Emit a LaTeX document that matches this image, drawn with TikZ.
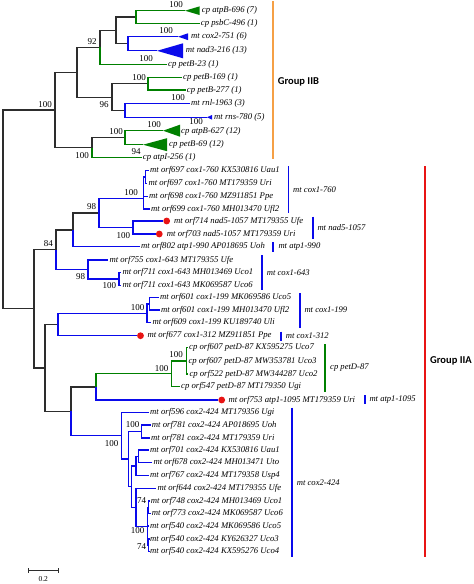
\documentclass[tikz,border=0pt]{standalone}
\usepackage{fontspec}
\setmainfont{Liberation Serif}
\newfontfamily\grpfont{Carlito}
\definecolor{tgreen}{RGB}{0,128,0}
\definecolor{tblue}{RGB}{10,10,235}
\definecolor{tblack}{RGB}{45,45,45}
\definecolor{tred}{RGB}{232,20,20}
\definecolor{torange}{RGB}{245,160,70}
\tikzset{
  br/.style={line width=1.2pt},
  bk/.style={br, draw=tblack},
  gr/.style={br, draw=tgreen},
  bl/.style={br, draw=tblue},
  lbl/.style={anchor=west, inner sep=1.2pt, xshift=-1.2pt, font=\fontsize{8.7}{10}\selectfont\itshape, text height=6pt, text depth=2pt},
  bs/.style={inner sep=0pt, font=\fontsize{9}{10}\selectfont},
  reddot/.style={circle, fill=tred, inner sep=0pt, minimum size=6.8pt},
  cbar/.style={line width=1.7pt},
  clbl/.style={anchor=west, inner sep=0pt, font=\fontsize{8.6}{10}\selectfont\itshape},
  grp/.style={anchor=west, inner sep=0pt, font=\grpfont\bfseries\fontsize{10.5}{12}\selectfont},
}
\begin{document}
\begin{tikzpicture}[x=1pt,y=-1pt]
\useasboundingbox (0,0) rectangle (474,584);
% ---------------- internal nodes ----------------
\coordinate (root) at (3,209.4);
\coordinate (A) at (55,110);
\coordinate (B1) at (77,72.2);
\coordinate (B) at (100,47.3);
\coordinate (C) at (116,30.4);
\coordinate (D) at (136,17);
\coordinate (E) at (128,43.75);
\coordinate (F) at (112,97.1);
\coordinate (G) at (148,83.85);
\coordinate (H) at (125,110.3);
\coordinate (I) at (92,147.7);
\coordinate (J) at (125,137.7);
\coordinate (N84) at (34,308.8);
\coordinate (K) at (56,249.75);
\coordinate (L) at (73,229.9);
\coordinate (M) at (99,213);
\coordinate (N) at (143.3,198.3);
\coordinate (N2) at (145.7,177);
\coordinate (O) at (133,227.6);
\coordinate (P) at (88,269.5);
\coordinate (Q) at (119,279);
\coordinate (R) at (45,367.9);
\coordinate (S) at (58,324.5);
\coordinate (T) at (147,313.3);
\coordinate (T2) at (149.5,303.9);
\coordinate (U) at (71,411.3);
\coordinate (V) at (96,386.9);
\coordinate (W) at (171.7,373.8);
\coordinate (X) at (186.3,360.9);
\coordinate (Y) at (121.7,435.65);
\coordinate (Z) at (128.5,459);
\coordinate (AA) at (141.7,431.5);
\coordinate (Z2) at (131.5,486.6);
\coordinate (BB) at (136,466);
\coordinate (BB2) at (138.3,456.4);
\coordinate (CC) at (136,507.25);
\coordinate (DD) at (147.3,526.2);
\coordinate (EE) at (148.5,507.2);
\coordinate (FF) at (148.5,545.2);
% triangle apexes
\coordinate (t1) at (185,10.7);
\coordinate (t2) at (178,36.7);
\coordinate (t3) at (157,50.8);
\coordinate (t4) at (207,117.3);
\coordinate (t5) at (163,130.7);
\coordinate (t6) at (143,144.7);
% ---------------- Group IIB labels ----------------
\node[lbl] (lt1) at (201.7,10.7) {cp atpB-696 (7)};
\node[lbl] (lpsbC) at (200.7,23.3) {cp psbC-496 (1)};
\node[lbl] (lt2) at (191,36.7) {mt cox2-751 (6)};
\node[lbl] (lt3) at (185.7,50.8) {mt nad3-216 (13)};
\node[lbl] (lpetB23) at (168,64.3) {cp petB-23 (1)};
\node[lbl] (lpetB169) at (183,77.7) {cp petB-169 (1)};
\node[lbl] (lpetB277) at (186.7,90) {cp petB-277 (1)};
\node[lbl] (lrnl) at (191,103.3) {mt rnl-1963 (3)};
\node[lbl] (lt4) at (214,117.3) {mt rns-780 (5)};
\node[lbl] (lt5) at (181,131.2) {cp atpB-627 (12)};
\node[lbl] (lt6) at (169,144.7) {cp petB-69 (12)};
\node[lbl] (latpl) at (142.7,157.7) {cp atpI-256 (1)};
% ---------------- Group IIA labels ----------------
\node[lbl] (l697a) at (150,170.7) {mt orf697 cox1-760 KX530816 Uau1};
\node[lbl] (l697b) at (148.3,183.4) {mt orf697 cox1-760 MT179359 Uri};
\node[lbl] (l698) at (149,196.2) {mt orf698 cox1-760 MZ911851 Ppe};
\node[lbl] (l699) at (151,209) {mt orf699 cox1-760 MH013470 Ufl2};
\node[reddot] (d714) at (166.7,221) {};
\node[reddot] (d703) at (159.3,234) {};
\node[lbl] (l714) at (174,221) {mt orf714 nad5-1057 MT179355 Ufe};
\node[lbl] (l703) at (166.7,234) {mt orf703 nad5-1057 MT179359 Uri};
\node[lbl] (l802) at (141,246.7) {mt orf802 atp1-990 AP018695 Uoh};
\node[lbl] (l755) at (109.3,260) {mt orf755 cox1-643 MT179355 Ufe};
\node[lbl] (l711a) at (122.3,272.3) {mt orf711 cox1-643 MH013469 Uco1};
\node[lbl] (l711b) at (122.3,285.7) {mt orf711 cox1-643 MK069587 Uco6};
\node[lbl] (l601a) at (160,297.7) {mt orf601 cox1-199 MK069586 Uco5};
\node[lbl] (l601b) at (161,310) {mt orf601 cox1-199 MH013470 Ufl2};
\node[lbl] (l609) at (152.3,322.7) {mt orf609 cox1-199 KU189740 Uli};
\node[reddot] (d677) at (140.5,335.7) {};
\node[lbl] (l677) at (147.3,335.7) {mt orf677 cox1-312 MZ911851 Ppe};
\node[lbl] (l607a) at (189,347.7) {cp orf607 petD-87 KX595275 Uco7};
\node[lbl] (l607b) at (188.3,361) {cp orf607 petD-87 MW353781 Uco3};
\node[lbl] (l522) at (189.3,374) {cp orf522 petD-87 MW344287 Uco2};
\node[lbl] (l547) at (181,386.7) {cp orf547 petD-87 MT179350 Ugi};
\node[reddot] (d753) at (221.7,400) {};
\node[lbl] (l753) at (228.3,400) {mt orf753 atp1-1095 MT179359 Uri};
\node[lbl] (l596) at (150,412.3) {mt orf596 cox2-424 MT179356 Ugi};
\node[lbl] (l781a) at (151.7,425) {mt orf781 cox2-424 AP018695 Uoh};
\node[lbl] (l781b) at (151,438) {mt orf781 cox2-424 MT179359 Uri};
\node[lbl] (l701) at (150,450) {mt orf701 cox2-424 KX530816 Uau1};
\node[lbl] (l678) at (153.3,462.7) {mt orf678 cox2-424 MH013471 Uto};
\node[lbl] (l767) at (150,475.7) {mt orf767 cox2-424 MT179358 Usp4};
\node[lbl] (l644) at (157.3,488.3) {mt orf644 cox2-424 MT179355 Ufe};
\node[lbl] (l748) at (150.7,501) {mt orf748 cox2-424 MH013469 Uco1};
\node[lbl] (l773) at (151.7,513.3) {mt orf773 cox2-424 MK069587 Uco6};
\node[lbl] (l540a) at (150,526) {mt orf540 cox2-424 MK069586 Uco5};
\node[lbl] (l540b) at (150,539) {mt orf540 cox2-424 KY626327 Uco3};
\node[lbl] (l540c) at (150,551.3) {mt orf540 cox2-424 KX595276 Uco4};
% ---------------- branches: Group IIB ----------------
\draw[bk] (root) |- (A);
\draw[bk] (root) |- (N84);
\draw[bk] (A) |- (B1);
\draw[bk] (B1) |- (B);
\draw[bk] (B) |- (C);
\draw[bk] (C) |- (D);
\draw[gr] (D) |- (t1);
\draw[gr] (D) |- (lpsbC.west);
\draw[bk] (C) |- (E);
\draw[bl] (E) |- (t2);
\draw[bl] (E) |- (t3);
\draw[gr] (B) |- (lpetB23.west);
\draw[bk] (B1) |- (F);
\draw[bk] (F) |- (G);
\draw[gr] (G) |- (lpetB169.west);
\draw[gr] (G) |- (lpetB277.west);
\draw[bk] (F) |- (H);
\draw[bl] (H) |- (lrnl.west);
\draw[bl] (H) |- (t4);
\draw[bk] (A) |- (I);
\draw[bk] (I) |- (J);
\draw[gr] (J) |- (t5);
\draw[gr] (J) |- (t6);
\draw[gr] (I) |- (latpl.west);
% collapsed clades
\fill[tgreen] (t1) -- ++(14.5,-4.3) -- ++(0,8.6) -- cycle;
\fill[tblue] (t2) -- ++(10,-3.4) -- ++(0,6.8) -- cycle;
\fill[tblue] (t3) -- ++(26,-7.5) -- ++(0,15) -- cycle;
\fill[tblue] (t4) -- ++(5,-2.3) -- ++(0,4.6) -- cycle;
\fill[tgreen] (t5) -- ++(17,-6) -- ++(0,12) -- cycle;
\fill[tgreen] (t6) -- ++(24,-6.5) -- ++(0,13) -- cycle;
% ---------------- branches: Group IIA ----------------
\draw[bk] (N84) |- (K);
\draw[bk] (K) |- (L);
\draw[bk] (L) |- (M);
\draw[bl] (M) |- (N);
\draw[bl] (N) |- (N2);
\draw[bl] (N2) |- (l697a.west);
\draw[bl] (N2) |- (l697b.west);
\draw[bl] (N) |- (l698.west);
\draw[bl] (N) |- (l699.west);
\draw[bl] (M) |- (O);
\draw[bl] (O) |- (d714);
\draw[bl] (O) |- (d703);
\draw[bl] (L) |- (l802.west);
\draw[bl] (K) |- (P);
\draw[bl] (P) |- (l755.west);
\draw[bl] (P) |- (Q);
\draw[bl] (Q) |- (l711a.west);
\draw[bl] (Q) |- (l711b.west);
\draw[bk] (N84) |- (R);
\draw[bk] (R) |- (S);
\draw[bl] (S) |- (T);
\draw[bl] (T) |- (T2);
\draw[bl] (T2) |- (l601a.west);
\draw[bl] (T2) |- (l601b.west);
\draw[bl] (T) |- (l609.west);
\draw[bl] (S) |- (d677);
\draw[bk] (R) |- (U);
\draw[bk] (U) |- (V);
\draw[gr] (V) |- (W);
\draw[gr] (W) |- (X);
\draw[gr] (X) |- (l607a.west);
\draw[gr] (X) |- (l607b.west);
\draw[gr] (X) |- (l522.west);
\draw[gr] (W) |- (l547.west);
\draw[bl] (V) |- (d753);
\draw[bl] (U) |- (Y);
\draw[bl] (Y) |- (l596.west);
\draw[bl] (Y) |- (Z);
\draw[bl] (Z) |- (AA);
\draw[bl] (AA) |- (l781a.west);
\draw[bl] (AA) |- (l781b.west);
\draw[bl] (Z) |- (Z2);
\draw[bl] (Z2) |- (BB);
\draw[bl] (BB) |- (BB2);
\draw[bl] (BB2) |- (l701.west);
\draw[bl] (BB2) |- (l678.west);
\draw[bl] (BB) |- (l767.west);
\draw[bl] (Z2) |- (CC);
\draw[bl] (CC) |- (l644.west);
\draw[bl] (CC) |- (DD);
\draw[bl] (DD) |- (EE);
\draw[bl] (EE) |- (l748.west);
\draw[bl] (EE) |- (l773.west);
\draw[bl] (DD) |- (l540a.west);
\draw[bl] (DD) |- (FF);
\draw[bl] (FF) |- (l540b.west);
\draw[bl] (FF) |- (l540c.west);
% ---------------- bootstrap values ----------------
\node[bs] (s1) at (45,104.3) {100};
\node[bs] (s2) at (92,42) {92};
\node[bs] (s3) at (176,4.5) {100};
\node[bs] (s4) at (166,30.5) {100};
\node[bs] (s5) at (146,58.5) {100};
\node[bs] (s6) at (139,78) {100};
\node[bs] (s7) at (104,105) {96};
\node[bs] (s8) at (178,97.5) {100};
\node[bs] (s9) at (196,122) {100};
\node[bs] (s10) at (154,124.5) {100};
\node[bs] (s11) at (116,131.5) {100};
\node[bs] (s12) at (82,156) {100};
\node[bs] (s13) at (136,151.5) {94};
\node[bs] (s14) at (48.3,243.3) {84};
\node[bs] (s15) at (91.7,206.7) {98};
\node[bs] (s16) at (131,192.3) {100};
\node[bs] (s17) at (123.3,235.7) {100};
\node[bs] (s18) at (80.7,276.7) {98};
\node[bs] (s19) at (109.3,286) {100};
\node[bs] (s20) at (137.7,307.7) {100};
\node[bs] (s21) at (176,355) {100};
\node[bs] (s22) at (161.7,368.3) {100};
\node[bs] (s23) at (132.7,425) {100};
\node[bs] (s24) at (111.7,443.3) {100};
\node[bs] (s25) at (141.7,501) {74};
\node[bs] (s26) at (137.5,531) {100};
\node[bs] (s27) at (141.7,547) {74};
% ---------------- clade bars ----------------
\coordinate (c1a) at (288.5,166); \coordinate (c1b) at (288.5,212.5);
\draw[cbar, tblue] (c1a) -- (c1b);
\node[clbl] (c1) at (293,190) {mt cox1-760};
\coordinate (c2a) at (312.7,216.7); \coordinate (c2b) at (312.7,239.3);
\draw[cbar, tblue] (c2a) -- (c2b);
\node[clbl] (c2) at (317.3,227.3) {mt nad5-1057};
\coordinate (c3a) at (273.3,242.3); \coordinate (c3b) at (273.3,251.7);
\draw[cbar, tblue] (c3a) -- (c3b);
\node[clbl] (c3) at (278.3,247) {mt atp1-990};
\coordinate (c4a) at (261.7,255); \coordinate (c4b) at (261.7,290);
\draw[cbar, tblue] (c4a) -- (c4b);
\node[clbl] (c4) at (266.7,272.3) {mt cox1-643};
\coordinate (c5a) at (300,293.3); \coordinate (c5b) at (300,328.3);
\draw[cbar, tblue] (c5a) -- (c5b);
\node[clbl] (c5) at (304.3,310) {mt cox1-199};
\coordinate (c6a) at (280.7,331.7); \coordinate (c6b) at (280.7,340.7);
\draw[cbar, tblue] (c6a) -- (c6b);
\node[clbl] (c6) at (285.7,335.7) {mt cox1-312};
\coordinate (c7a) at (325,344); \coordinate (c7b) at (325,391.7);
\draw[cbar, tgreen] (c7a) -- (c7b);
\node[clbl] (c7) at (330,367.7) {cp petD-87};
\coordinate (c8a) at (365,395); \coordinate (c8b) at (365,404);
\draw[cbar, tblue] (c8a) -- (c8b);
\node[clbl] (c8) at (369.3,399.3) {mt atp1-1095};
\coordinate (c9a) at (291.7,407.7); \coordinate (c9b) at (291.7,556.7);
\draw[cbar, tblue] (c9a) -- (c9b);
\node[clbl] (c9) at (296.7,482.3) {mt cox2-424};
% ---------------- group bars ----------------
\coordinate (g1a) at (273,1); \coordinate (g1b) at (273,158.5);
\draw[line width=2.2pt, torange] (g1a) -- (g1b);
\node[grp] (g1) at (277.7,82) {Group IIB};
\coordinate (g2a) at (425,166); \coordinate (g2b) at (425,557);
\draw[line width=2.2pt, tred] (g2a) -- (g2b);
\node[grp] (g2) at (430,361) {Group IIA};
% ---------------- scale bar ----------------
\coordinate (sb1) at (28.3,570.7); \coordinate (sb2) at (58.3,570.7);
\draw[line width=1.1pt, tblack] (sb1) -- (sb2);
\draw[line width=1.1pt, tblack] ([yshift=2.5pt]sb1) -- ([yshift=-2.5pt]sb1);
\draw[line width=1.1pt, tblack] ([yshift=2.5pt]sb2) -- ([yshift=-2.5pt]sb2);
\node[bs, font=\fontsize{7.5}{9}\selectfont] (sbl) at (43.3,579.5) {0.2};
\end{tikzpicture}
\end{document}
